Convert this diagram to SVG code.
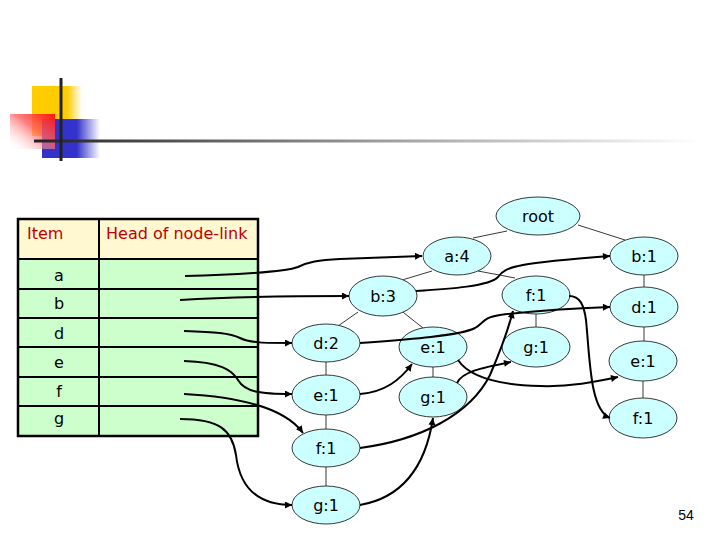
<svg xmlns="http://www.w3.org/2000/svg" width="720" height="540" viewBox="0 0 720 540">
<defs>
<style>
.node ellipse{fill:#CCFFFF;stroke:#222;stroke-width:0.9}
.node text{font-family:"DejaVu Sans",Verdana,sans-serif;font-size:16px;fill:#000;text-anchor:middle}
.tree line{stroke:#222;stroke-width:0.9}
.link{fill:none;stroke:#000;stroke-width:2;marker-end:url(#arr)}
.stub{fill:none;stroke:#000;stroke-width:2}
.hdr{font-family:"DejaVu Sans",Tahoma,sans-serif;font-size:16px;fill:#C00000}
.itm{font-family:"DejaVu Sans",Tahoma,sans-serif;font-size:16px;fill:#000;text-anchor:middle}
</style>
<marker id="arr" viewBox="0 0 10 10" refX="10" refY="5" markerWidth="9" markerHeight="7" markerUnits="userSpaceOnUse" orient="auto">
<path d="M0,0 L10,5 L0,10 z" fill="#000"/>
</marker>
<linearGradient id="gy" x1="0" y1="0" x2="1" y2="0">
<stop offset="0.7" stop-color="#FFCC00"/><stop offset="1" stop-color="#FFCC00" stop-opacity="0"/>
</linearGradient>
<linearGradient id="gb" x1="0" y1="0" x2="1" y2="0">
<stop offset="0.6" stop-color="#3333CC"/><stop offset="1" stop-color="#3333CC" stop-opacity="0"/>
</linearGradient>
<linearGradient id="gr" x1="1" y1="0" x2="0" y2="1">
<stop offset="0" stop-color="#FF1010"/><stop offset="0.45" stop-color="#FF6060" stop-opacity="0.8"/><stop offset="1" stop-color="#FFFFFF" stop-opacity="0"/>
</linearGradient>
<linearGradient id="gl" x1="0" y1="0" x2="1" y2="0">
<stop offset="0" stop-color="#222"/><stop offset="0.5" stop-color="#999"/><stop offset="1" stop-color="#fff"/>
</linearGradient>
</defs>
<rect width="720" height="540" fill="#fff"/>
<g id="decoration">
<rect x="32" y="86" width="50" height="50" fill="url(#gy)"/>
<rect x="42" y="119" width="58" height="39" fill="url(#gb)"/>
<rect x="10" y="114" width="45" height="35" fill="url(#gr)"/>
<rect x="34" y="139.5" width="666" height="3" fill="url(#gl)"/>
<rect x="59.5" y="78" width="3" height="83" fill="#222"/>
</g>
<g id="table">
<rect x="18" y="219" width="240" height="40" fill="#FFF8D0"/>
<rect x="18" y="259" width="240" height="177" fill="#CCFFCC"/>
<g stroke="#000" stroke-width="2">
<line x1="18" y1="259" x2="258" y2="259"/>
<line x1="18" y1="289" x2="258" y2="289"/>
<line x1="18" y1="318" x2="258" y2="318"/>
<line x1="18" y1="347" x2="258" y2="347"/>
<line x1="18" y1="377" x2="258" y2="377"/>
<line x1="18" y1="406" x2="258" y2="406"/>
<line x1="99" y1="219" x2="99" y2="436"/>
</g>
<rect x="18" y="219" width="240" height="217" fill="none" stroke="#000" stroke-width="2.5"/>
<text class="hdr" x="27" y="239">Item</text>
<text class="hdr" x="106" y="239">Head of node-link</text>
<text class="itm" x="59" y="281">a</text>
<text class="itm" x="59" y="309">b</text>
<text class="itm" x="59" y="339">d</text>
<text class="itm" x="59" y="368">e</text>
<text class="itm" x="59" y="397">f</text>
<text class="itm" x="59" y="424">g</text>
</g>
<g id="tree-edges" class="tree">
<line x1="507" y1="231" x2="473" y2="238"/>
<line x1="578" y1="225" x2="625" y2="240"/>
<line x1="432" y1="271" x2="402" y2="280"/>
<line x1="478" y1="271" x2="515" y2="278"/>
<line x1="644" y1="275" x2="644" y2="287"/>
<line x1="358" y1="312" x2="338" y2="326"/>
<line x1="399" y1="309" x2="423" y2="328"/>
<line x1="536" y1="314" x2="536" y2="327"/>
<line x1="644" y1="327" x2="644" y2="341"/>
<line x1="643" y1="381" x2="643" y2="398"/>
<line x1="326" y1="362" x2="326" y2="375"/>
<line x1="433" y1="367" x2="433" y2="377"/>
<line x1="326" y1="415" x2="326" y2="429"/>
<line x1="326" y1="467" x2="326" y2="486"/>
</g>
<g id="n-root" class="node"><ellipse cx="538" cy="216" rx="42" ry="19"/><text x="538" y="222">root</text></g>
<g id="n-a4" class="node"><ellipse cx="457" cy="256" rx="34" ry="19"/><text x="457" y="262">a:4</text></g>
<g id="n-b1" class="node"><ellipse cx="644" cy="256" rx="34" ry="19"/><text x="644" y="262">b:1</text></g>
<g id="n-b3" class="node"><ellipse cx="383" cy="296" rx="34" ry="20"/><text x="383" y="302">b:3</text></g>
<g id="n-f1a" class="node"><ellipse cx="536" cy="295" rx="34" ry="19"/><text x="536" y="301">f:1</text></g>
<g id="n-d1" class="node"><ellipse cx="644" cy="307" rx="34" ry="20"/><text x="644" y="313">d:1</text></g>
<g id="n-d2" class="node"><ellipse cx="326" cy="343" rx="34" ry="19"/><text x="326" y="349">d:2</text></g>
<g id="n-e1a" class="node"><ellipse cx="433" cy="347" rx="34" ry="20"/><text x="433" y="353">e:1</text></g>
<g id="n-g1a" class="node"><ellipse cx="536" cy="347" rx="34" ry="20"/><text x="536" y="353">g:1</text></g>
<g id="n-e1b" class="node"><ellipse cx="643" cy="361" rx="34" ry="20"/><text x="643" y="367">e:1</text></g>
<g id="n-e1c" class="node"><ellipse cx="326" cy="395" rx="34" ry="20"/><text x="326" y="401">e:1</text></g>
<g id="n-g1b" class="node"><ellipse cx="433" cy="397" rx="34" ry="20"/><text x="433" y="403">g:1</text></g>
<g id="n-f1b" class="node"><ellipse cx="643" cy="418" rx="34" ry="20"/><text x="643" y="424">f:1</text></g>
<g id="n-f1c" class="node"><ellipse cx="326" cy="448" rx="34" ry="19"/><text x="326" y="454">f:1</text></g>
<g id="n-g1c" class="node"><ellipse cx="326" cy="505" rx="34" ry="19"/><text x="326" y="511">g:1</text></g>
<g id="connectors">
<path class="link" d="M185,276 C230,275 285,272 298,267 C308,262 318,260 340,259 L422,256"/>
<path class="link" d="M180,300 C230,297 280,296 349,296"/>
<path class="link" d="M184,331 C215,332 230,333 240,338 C250,343 265,343 292,343"/>
<path class="link" d="M184,361 C220,362 232,370 238,380 C245,392 260,394 292,394"/>
<path class="link" d="M184,394 C240,397 285,408 303,433"/>
<path class="link" d="M180,419 C220,419 232,430 236,455 C240,490 260,505 292,505"/>
<path class="link" d="M416,291 C450,289 490,286 498,277 C505,266 520,263 610,256"/>
<path class="link" d="M360,343 C400,340 460,336 475,328 C485,322 482,318 500,315 C540,310 580,308 610,307"/>
<path class="link" d="M360,394 C385,392 400,380 412,364"/>
<path class="link" d="M360,448 C420,440 470,415 490,375 C503,345 508,330 513,311"/>
<path class="link" d="M360,505 C400,498 425,470 433,418"/>
<path class="link" d="M457,383 C462,372 480,368 511,362"/>
<path class="link" d="M458,360 C470,378 500,385 540,386 C570,387 595,382 618,377"/>
<path class="link" d="M569,296 C580,296 584,305 586,320 C590,360 590,410 610,418"/>
</g>
<text x="686" y="520" font-family="Liberation Sans, Arial, sans-serif" font-size="14" text-anchor="middle" fill="#000">54</text>
</svg>
